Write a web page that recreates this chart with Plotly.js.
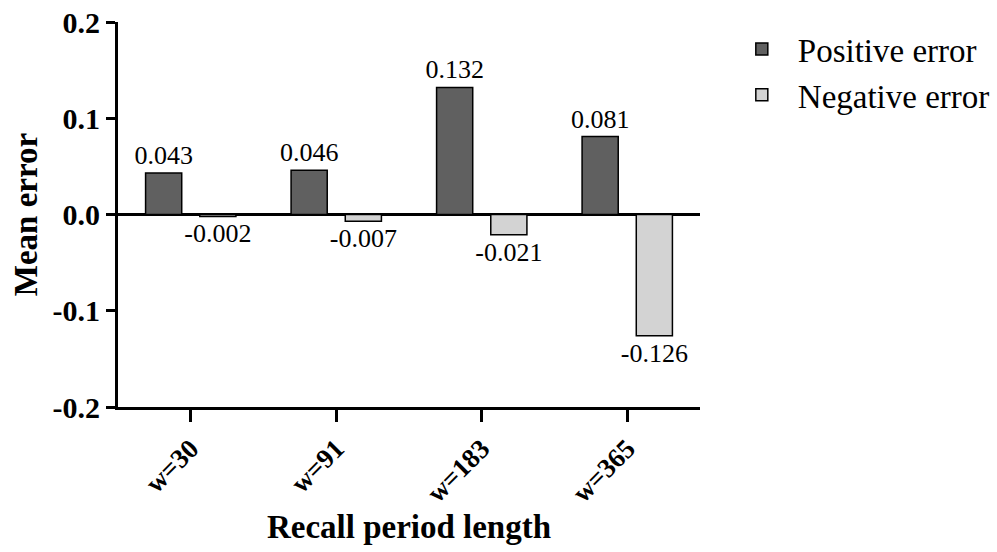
<!DOCTYPE html>
<html>
<head>
<meta charset="utf-8">
<script src="https://cdn.plot.ly/plotly-3.0.1.min.js"></script>
<style>html,body{margin:0;padding:0;background:#fff;}#chart{width:997px;height:552px;}</style>
</head>
<body>
<div id="chart"></div>
<script>
const categories = ["w=30", "w=91", "w=183", "w=365"];
const positiveError = [0.043, 0.046, 0.132, 0.081];
const negativeError = [-0.002, -0.007, -0.021, -0.126];
const yTickValues = [-0.2, -0.1, 0.0, 0.1, 0.2];
const seriesNames = ["Positive error", "Negative error"];

const FONT = "Liberation Serif, Times New Roman, serif";
const fmt3 = v => v.toFixed(3);
const fmt1 = v => v.toFixed(1);

const traces = [
  {
    type: "bar", name: seriesNames[0], x: categories, y: positiveError,
    text: positiveError.map(fmt3), textposition: "outside", cliponaxis: false,
    constraintext: "none", textangle: 0,
    textfont: {family: FONT, size: 26, color: "#000"},
    marker: {color: "#606060", line: {color: "#000", width: 1.5}},
    hoverinfo: "x+y"
  },
  {
    type: "bar", name: seriesNames[1], x: categories, y: negativeError,
    text: negativeError.map(fmt3), textposition: "outside", cliponaxis: false,
    constraintext: "none", textangle: 0,
    textfont: {family: FONT, size: 26, color: "#000"},
    marker: {color: "#d3d3d3", line: {color: "#000", width: 1.5}},
    hoverinfo: "x+y"
  }
];

const layout = {
  width: 997, height: 552,
  margin: {l: 118, r: 297, t: 22, b: 145, autoexpand: false},
  paper_bgcolor: "#fff", plot_bgcolor: "#fff",
  font: {family: FONT, color: "#000"},
  barmode: "group", bargap: 0.255, bargroupgap: 0.333,
  showlegend: true,
  legend: {
    xref: "container", yref: "container",
    x: 0.728, y: 0.962, xanchor: "left", yanchor: "top",
    font: {family: FONT, size: 33, color: "#000"},
    bgcolor: "rgba(0,0,0,0)", tracegroupgap: 0, itemwidth: 62
  },
  xaxis: {
    type: "category", range: [-0.5, 3.5],
    showline: true, linecolor: "#000", linewidth: 3,
    ticks: "outside", ticklen: 12, tickwidth: 3, tickcolor: "#000",
    tickangle: -45,
    tickfont: {family: FONT, size: 27, color: "#000", weight: "bold"},
    showgrid: false, zeroline: false,
    title: {text: "Recall period length", font: {family: FONT, size: 33, color: "#000", weight: "bold"}, standoff: 8}
  },
  yaxis: {
    range: [-0.2, 0.2],
    tickmode: "array", tickvals: yTickValues, ticktext: yTickValues.map(fmt1),
    showline: true, linecolor: "#000", linewidth: 3,
    ticks: "outside", ticklen: 9, tickwidth: 3, tickcolor: "#000",
    tickfont: {family: FONT, size: 30, color: "#000", weight: "bold"},
    showgrid: false,
    zeroline: true, zerolinecolor: "#000", zerolinewidth: 3,
    title: {text: "Mean error", font: {family: FONT, size: 33, color: "#000", weight: "bold"}, standoff: 5}
  }
};

Plotly.newPlot("chart", traces, layout, {displayModeBar: false, staticPlot: true});
</script>
</body>
</html>
